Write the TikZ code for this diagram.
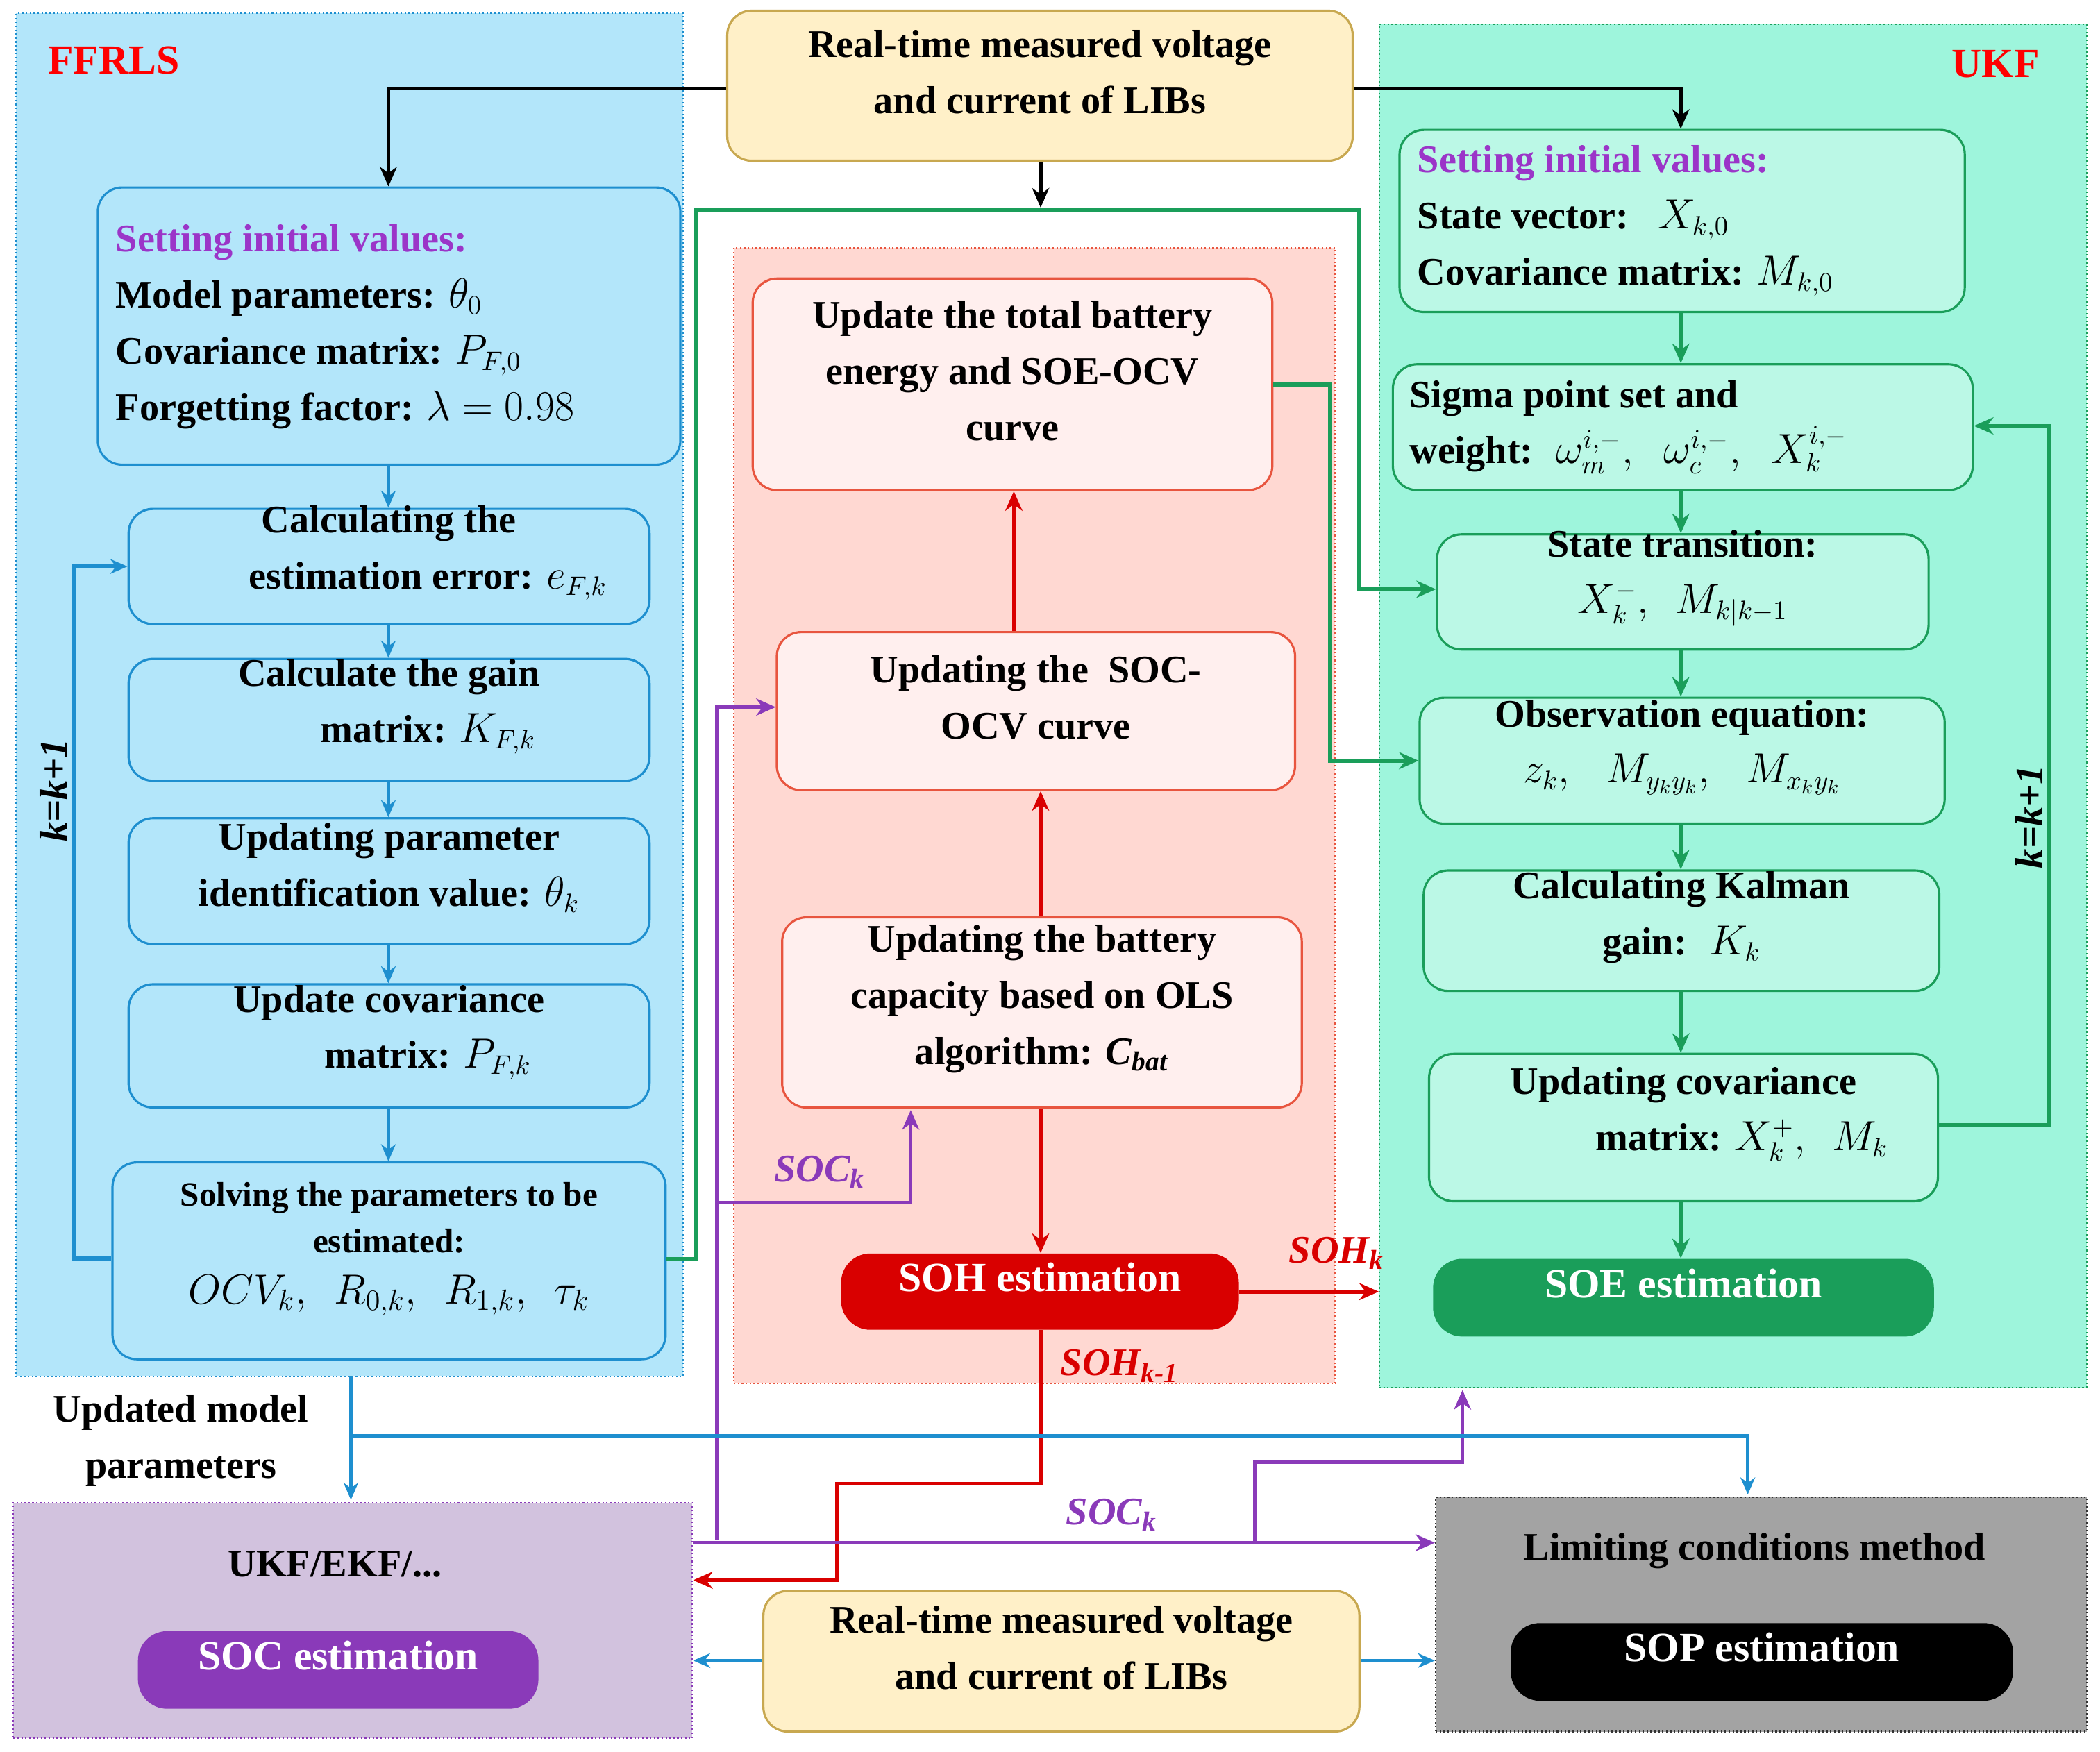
\documentclass[tikz,border=0pt]{standalone}
\usepackage{fontspec}
\setmainfont{Liberation Serif}
\usetikzlibrary{arrows.meta,fit,positioning}
\definecolor{cpan}{HTML}{B3E6FA}
\definecolor{cbl}{HTML}{1E8FCF}
\definecolor{gpan}{HTML}{9EF5DC}
\definecolor{ggr}{HTML}{1A9E5A}
\definecolor{ppan}{HTML}{FFD8D2}
\definecolor{pred}{HTML}{E8553F}
\definecolor{ylw}{HTML}{FFF0C8}
\definecolor{ylwb}{HTML}{C8A850}
\definecolor{purp}{HTML}{8A3AB9}
\definecolor{lpur}{HTML}{D2C2DE}
\definecolor{gry}{HTML}{A3A3A3}
\definecolor{tpur}{HTML}{9B35C8}
\begin{document}
\begin{tikzpicture}[x=0.1929mm,y=-0.1929mm,
  every node/.style={font=\fontsize{16}{23}\selectfont\bfseries},
  panel/.style={draw, densely dotted, line width=0.6pt, inner sep=0},
  lbox/.style={draw=cbl, fill=cpan, rounded corners=10pt, line width=0.9pt, inner sep=0, align=center},
  gbox/.style={draw=ggr, fill=gpan!70!white, rounded corners=10pt, line width=0.9pt, inner sep=0, align=center},
  rbox/.style={draw=pred, fill=ppan!80!red!20, rounded corners=10pt, line width=0.9pt, inner sep=0, align=center},
  ybox/.style={draw=ylwb, fill=ylw, rounded corners=10pt, line width=0.9pt, inner sep=0, align=center},
  pill/.style={rounded corners=12pt, inner sep=0, text=white, font=\fontsize{17}{20}\selectfont\bfseries},
  ba/.style={cbl, line width=1.4pt, -{Stealth[length=7pt,width=6pt]}},
  ga/.style={ggr, line width=1.6pt, -{Stealth[length=8pt,width=7pt]}},
  ra/.style={red!85!black, line width=1.6pt, -{Stealth[length=8pt,width=7pt]}},
  pa/.style={purp, line width=1.4pt, -{Stealth[length=8pt,width=7pt]}},
  ka/.style={black, line width=1.6pt, -{Stealth[length=8pt,width=7pt]}},
  lab/.style={font=\fontsize{16}{18}\selectfont\bfseries\itshape}]
\useasboundingbox (0,0) rectangle (1568,1308);
% panels
\node[panel, draw=cbl, fill=cpan, fit={(12,10)(510,1028)}] (P1) {};
\node[panel, draw=ggr, fill=gpan, fit={(1030,18)(1558,1036)}] (P2) {};
\node[panel, draw=pred, fill=ppan, fit={(548,185)(997,1033)}] (P3) {};
\node[panel, draw=purp, fill=lpur, fit={(10,1122)(517,1298)}] (P4) {};
\node[panel, draw=gray!40!black, fill=gry, fit={(1072,1118)(1558,1293)}] (P5) {};
\node[text=red, font=\fontsize{17}{20}\selectfont\bfseries] at (85,45) {FFRLS};
\node[text=red, font=\fontsize{17}{20}\selectfont\bfseries] at (1490,48) {UKF};
% top / bottom yellow
\node[ybox, fit={(543,8)(1010,120)}] (top) {Real-time measured voltage\\and current of LIBs};
\node[ybox, fit={(570,1188)(1015,1293)}] (bot) {Real-time measured voltage\\and current of LIBs};
% left column
\node[lbox, fit={(73,140)(508,347)}] (L1) {};
\node[align=left, anchor=west] (L1t) at (80,244) {\textcolor{tpur}{Setting initial values:}\\Model parameters: $\theta_0$\\Covariance matrix: $P_{F,0}$\\Forgetting factor: $\lambda=0.98$};
\node[lbox, fit={(96,380)(485,466)}] (L2) {Calculating the\\\hspace*{2em}estimation error: $e_{F,k}$};
\node[lbox, fit={(96,492)(485,583)}] (L3) {Calculate the gain\\\hspace*{2em}matrix: $K_{F,k}$};
\node[lbox, fit={(96,611)(485,705)}] (L4) {Updating parameter\\identification value: $\theta_k$};
\node[lbox, fit={(96,735)(485,827)}] (L5) {Update covariance\\\hspace*{2em}matrix: $P_{F,k}$};
\node[lbox, fit={(84,868)(497,1015)}, font=\fontsize{14}{19}\selectfont\bfseries] (L6) {Solving the parameters to be\\estimated:\\[2pt] {\fontsize{17}{20}\selectfont $OCV_k,\ \ R_{0,k},\ \ R_{1,k},\ \ \tau_k$}};
% UKF column
\node[gbox, fit={(1045,97)(1467,233)}] (U1) {};
\node[align=left, anchor=west] (U1t) at (1052,165) {\textcolor{tpur}{Setting initial values:}\\State vector:\ \ \ $X_{k,0}$\\Covariance matrix: $M_{k,0}$};
\node[gbox, fit={(1040,272)(1473,366)}] (U2) {};
\node[align=left, anchor=west] (U2t) at (1046,319) {Sigma point set and\\weight: \ $\omega_m^{i,-},\;\; \omega_c^{i,-},\;\; X_k^{i,-}$};
\node[gbox, fit={(1073,399)(1440,485)}] (U3) {State transition:\\$X_k^-,\ \ M_{k|k-1}$};
\node[gbox, fit={(1060,521)(1452,615)}] (U4) {Observation equation:\\$z_k,\ \ \ M_{y_ky_k},\ \ \ M_{x_ky_k}$};
\node[gbox, fit={(1063,650)(1448,740)}] (U5) {Calculating Kalman\\gain: \ $K_k$};
\node[gbox, fit={(1067,787)(1447,897)}] (U6) {Updating covariance\\\hspace*{3em}matrix: $X_k^+,\ \ M_k$};
\node[pill, fill=ggr, fit={(1070,940)(1444,998)}] (SOE) {SOE estimation};
% middle
\node[rbox, fit={(562,208)(950,366)}] (M1) {Update the total battery\\energy and SOE-OCV\\curve};
\node[rbox, fit={(580,472)(967,590)}] (M2) {Updating the \ SOC-\\OCV curve};
\node[rbox, fit={(584,685)(972,827)}] (M3) {Updating the battery\\capacity based on OLS\\algorithm: \textit{C}\textsubscript{\textit{bat}}};
\node[pill, fill=red!85!black, fit={(628,936)(925,993)}] (SOH) {SOH estimation};
% bottom boxes content
\node at (250,1168) {UKF/EKF/...};
\node[pill, fill=purp, fit={(103,1218)(402,1276)}] (SOC) {SOC estimation};
\node at (1310,1158) {Limiting conditions method};
\node[pill, fill=black, fit={(1128,1212)(1503,1270)}] (SOP) {SOP estimation};
% black arrows from top
\draw[ka] (top.west |- 0,66) -- (290,66) -- (L1.north -| 290,0);
\draw[ka] (top.east |- 0,66) -- (1255,66) -- (U1.north -| 1255,0);
\draw[ka] (top.south -| 777,0) -- (777,155);
% left column arrows
\foreach \a/\b in {L1/L2,L2/L3,L3/L4,L4/L5,L5/L6}
  \draw[ba] (\a.south -| 290,0) -- (\b.north -| 290,0);
\draw[ba, line width=1.8pt] (L6.west |- 0,940) -- (55,940) -- (55,423) -- (L2.west |- 0,423);
\node[lab, rotate=90] at (40,590) {k=k+1};
% UKF arrows
\foreach \a/\b in {U1/U2,U2/U3,U3/U4,U4/U5,U5/U6,U6/SOE}
  \draw[ga] (\a.south -| 1255,0) -- (\b.north -| 1255,0);
\draw[ga] (U6.east |- 0,840) -- (1530,840) -- (1530,318) -- (U2.east |- 0,318);
\node[lab, rotate=90] at (1515,610) {k=k+1};
% green crossing arrows
\draw[ga] (L6.east |- 0,940) -- (520,940) -- (520,157) -- (1015,157) -- (1015,440) -- (U3.west |- 0,440);
\draw[ga] (M1.east |- 0,287) -- (993,287) -- (993,568) -- (U4.west |- 0,568);
% middle red arrows
\draw[ra] (M3.north -| 777,0) -- (M2.south -| 777,0);
\draw[ra] (M2.north -| 757,0) -- (M1.south -| 757,0);
\draw[ra] (M3.south -| 777,0) -- (SOH.north -| 777,0);
\draw[ra] (SOH.east) -- (P2.west |- SOH.east);
\node[lab, text=red!85!black] at (998,936) {SOH\textsubscript{k}};
\draw[ra] (SOH.south -| 777,0) -- (777,1108) -- (625,1108) -- (625,1180) -- (P4.east |- 0,1180);
\node[lab, text=red!85!black] at (836,1020) {SOH\textsubscript{k-1}};
% purple arrows
\draw[pa] (535,1150) -- (535,528) -- (M2.west |- 0,528);
\draw[pa] (535,898) -- (680,898) -- (680,829);
\node[lab, text=purp] at (612,875) {SOC\textsubscript{k}};
\draw[pa] (P4.east |- 0,1152) -- (P5.west |- 0,1152);
\node[lab, text=purp] at (830,1131) {SOC\textsubscript{k}};
\draw[pa] (937,1152) -- (937,1092) -- (1092,1092) -- (1092,1038);
% blue model param arrows
\draw[ba] (262,1028) -- (262,1120);
\draw[ba] (262,1072) -- (1305,1072) -- (1305,1116);
\node[align=center] at (135,1076) {Updated model\\parameters};
\draw[ba] (bot.west |- 0,1240) -- (P4.east |- 0,1240);
\draw[ba] (bot.east |- 0,1240) -- (P5.west |- 0,1240);
\end{tikzpicture}
\end{document}
